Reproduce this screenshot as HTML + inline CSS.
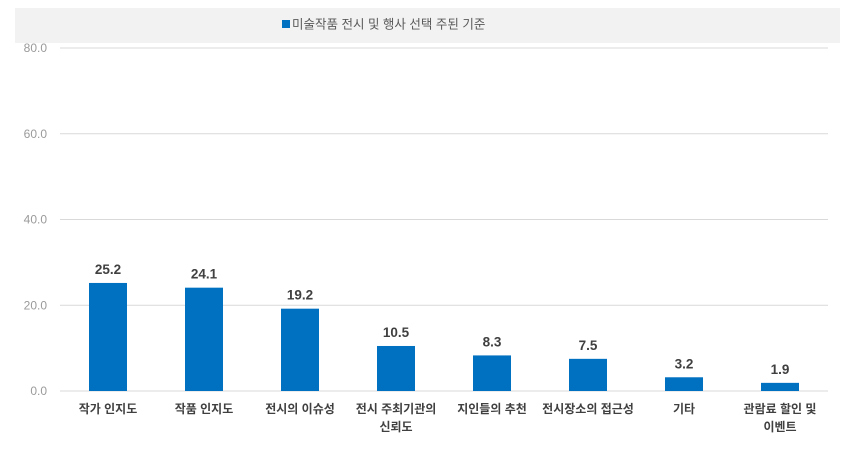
<!DOCTYPE html>
<html><head><meta charset="utf-8"><style>
body{margin:0;background:#fff;font-family:"Liberation Sans","Noto Sans CJK KR",sans-serif;}
#c{position:relative;width:856px;height:450px;overflow:hidden}
</style></head><body>
<div id="c">
<svg id="s" width="856" height="450">
<rect x="15" y="8" width="825" height="35" fill="#f2f2f2"/>
<g>
<rect x="282" y="20" width="8" height="8" fill="#0070c0"/>
<text x="292" y="28.5" font-size="12.5" fill="#595959" font-family="Liberation Sans,Noto Sans CJK KR,sans-serif">미술작품 전시 및 행사 선택 주된 기준</text>
</g>
</svg>
</div>
<script>
const categories=[["작가 인지도"],["작품 인지도"],["전시의 이슈성"],["전시 주최기관의","신뢰도"],["지인들의 추천"],["전시장소의 접근성"],["기타"],["관람료 할인 및","이벤트"]];
const values=[25.2,24.1,19.2,10.5,8.3,7.5,3.2,1.9];
const yTicks=[0,20,40,60,80];
const yTickLabels=["0.0","20.0","40.0","60.0","80.0"];
const NS="http://www.w3.org/2000/svg",s=document.getElementById('s');
const x0=60,x1=828,yTop=48,yBot=391,yMax=80;
const y=v=>yBot-(v/yMax)*(yBot-yTop);
const bw=(x1-x0)/categories.length;
const xc=i=>x0+bw*(i+0.5);
function mk(t,a,txt){const e=document.createElementNS(NS,t);for(const k in a)e.setAttribute(k,a[k]);if(txt!=null)e.textContent=txt;s.appendChild(e);return e;}
yTicks.forEach((t,i)=>{
 const g=mk('line',{x1:x0,x2:x1,y1:y(t),y2:y(t),stroke:'#d9d9d9','stroke-width':1});
 
 
 const l=mk('text',{x:47,y:y(t)+4,'text-anchor':'end','font-size':12,fill:'#9a9a9a'},yTickLabels[i]);
 
 
});
values.forEach((v,i)=>{
 const r=mk('rect',{x:xc(i)-19,y:y(v),width:38,height:yBot-y(v),fill:'#0070c0'});
 
 
 const t=mk('text',{x:xc(i),y:y(v)-9,'text-anchor':'middle','font-size':13.5,'font-weight':'bold',fill:'#404040'},v.toFixed(1));
 
 
 categories[i].forEach((ln,j)=>{
  const c=mk('text',{x:xc(i),y:413+j*18,'text-anchor':'middle','font-size':12,'font-weight':'bold',fill:'#404040'},ln);
  
  
 });
});
</script>
</body></html>
